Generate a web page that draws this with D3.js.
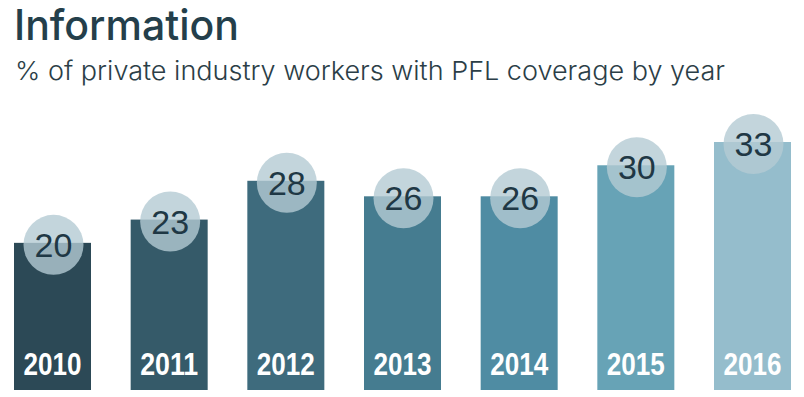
<!DOCTYPE html>
<html>
<head>
<meta charset="utf-8">
<script src="https://cdn.jsdelivr.net/npm/d3@7"></script>
<style>
  body { margin: 0; background: #fff; }
  svg { display: block; }
</style>
</head>
<body>
<div id="chart"></div>
<script>
// Data
var years = ["2010", "2011", "2012", "2013", "2014", "2015", "2016"];
var coverage = [20, 23, 28, 26, 26, 30, 33];
var barColors = ["#2c4956", "#355a69", "#3e6b7d", "#457c90", "#4f8ca3", "#67a3b6", "#95bdcc"];

var W = 804, H = 397;
var baseY = 390;

var svg = d3.select("#chart").append("svg")
    .attr("width", W)
    .attr("height", H);

// Title and subtitle
svg.append("text")
    .attr("x", 14)
    .attr("y", 40)
    .attr("textLength", 225)
    .attr("lengthAdjust", "spacingAndGlyphs")
    .style("font-family", "Inter, 'Open Sans', sans-serif")
    .style("font-weight", 500)
    .style("font-size", "42px")
    .style("fill", "#243f4b")
    .text("Information");

svg.append("text")
    .attr("x", 15)
    .attr("y", 80)
    .attr("textLength", 710)
    .attr("lengthAdjust", "spacingAndGlyphs")
    .style("font-family", "Inter, 'Open Sans', sans-serif")
    .style("font-weight", 300)
    .style("font-size", "26px")
    .style("fill", "#2b3e47")
    .text("% of private industry workers with PFL coverage by year");

// Scales
var x = d3.scaleBand()
    .domain(years)
    .range([14, 791])
    .paddingInner(0.34)
    .paddingOuter(0);

var y = d3.scaleLinear()
    .domain([0, 33])
    .range([398, 142]);

var data = years.map(function(yr, i) {
    return { year: yr, value: coverage[i], color: barColors[i] };
});

// Bars
svg.selectAll("rect.bar")
    .data(data)
  .enter()
  .append("rect")
    .attr("class", "bar")
    .attr("x", function(d) { return x(d.year); })
    .attr("width", x.bandwidth())
    .attr("y", function(d) { return y(d.value); })
    .attr("height", function(d) { return baseY - y(d.value); })
    .style("fill", function(d) { return d.color; });

// Value bubbles
svg.selectAll("circle.bubble")
    .data(data)
  .enter()
  .append("circle")
    .attr("class", "bubble")
    .attr("cx", function(d) { return x(d.year) + x.bandwidth() / 2 + 1; })
    .attr("cy", function(d) { return y(d.value) + 2; })
    .attr("r", 30)
    .style("fill", "#b4cbd3")
    .style("fill-opacity", 0.8);

svg.selectAll("text.value")
    .data(data)
  .enter()
  .append("text")
    .attr("class", "value")
    .attr("x", function(d) { return x(d.year) + x.bandwidth() / 2 + 1; })
    .attr("y", function(d) { return y(d.value) + 2 + 12; })
    .attr("text-anchor", "middle")
    .style("font-family", "'Liberation Sans', Arial, sans-serif")
    .style("font-size", "34px")
    .style("fill", "#1f3845")
    .text(function(d) { return d.value; });

// Year labels inside the bars (condensed bold)
svg.selectAll("text.year")
    .data(data)
  .enter()
  .append("text")
    .attr("class", "year")
    .attr("x", function(d) { return x(d.year) + x.bandwidth() / 2 - 29; })
    .attr("y", 375)
    .attr("textLength", 58)
    .attr("lengthAdjust", "spacingAndGlyphs")
    .style("font-family", "'Liberation Sans', Arial, sans-serif")
    .style("font-weight", "bold")
    .style("font-size", "31px")
    .style("fill", "#ffffff")
    .text(function(d) { return d.year; });
</script>
</body>
</html>
